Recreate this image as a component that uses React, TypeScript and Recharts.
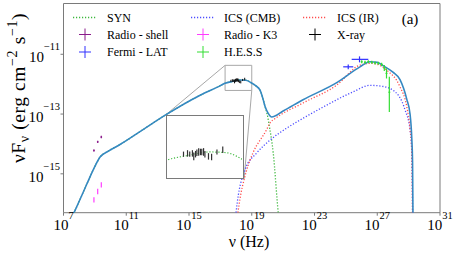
import React from 'react';
import {
  ComposedChart,
  Line,
  Scatter,
  XAxis,
  YAxis,
  ErrorBar,
  ReferenceArea,
  ReferenceLine,
} from 'recharts';

const FONT = "'Liberation Serif'";

// ---------- axes (log10 of nu [Hz] and of nuF_nu [erg cm^-2 s^-1]) ----------
const X_DOMAIN: [number, number] = [7, 31];
const Y_DOMAIN: [number, number] = [-16.301, -9.301];
const X_TICKS = [7, 11, 15, 19, 23, 27, 31];
const Y_TICKS = [-15, -13, -11];

// ---------- model curves ----------
const totalLogNu = [7.5, 8.05, 8.48, 9.01, 9.33, 9.86, 10.6, 12.07, 13.51, 15.71, 17.0, 17.3, 17.76, 18.26, 18.63, 18.99, 19.27, 19.53, 19.72, 19.85, 20.04, 20.27, 21.0, 22.27, 24.42, 25.9, 26.54, 27.0, 27.37, 28.0, 28.45, 28.88, 29.09, 29.2, 29.25, 29.28];
const totalLogFlux = [-16.5, -15.86, -15.35, -14.74, -14.44, -14.24, -14.02, -13.52, -13.03, -12.37, -12.05, -11.97, -11.91, -11.86, -11.87, -11.96, -12.06, -12.2, -12.5, -12.75, -12.97, -13.1, -12.9, -12.52, -11.95, -11.42, -11.25, -11.27, -11.38, -11.6, -11.85, -12.5, -13.0, -13.8, -14.6, -16.6];

const synLogNu = [7.5, 8.05, 8.48, 9.01, 9.33, 9.86, 10.6, 12.07, 13.51, 15.71, 17.0, 17.3, 17.76, 18.26, 18.63, 18.99, 19.27, 19.53, 19.72, 19.85, 19.98, 20.12, 20.37, 20.69, 20.8];
const synLogFlux = [-16.5, -15.86, -15.35, -14.74, -14.44, -14.24, -14.02, -13.52, -13.03, -12.37, -12.05, -11.97, -11.91, -11.86, -11.87, -11.96, -12.06, -12.2, -12.5, -12.76, -13.0, -13.4, -14.3, -16.3, -16.8];

const cmbLogNu = [17.95, 18.0, 18.57, 19.32, 20.17, 21.23, 22.08, 23.5, 25.45, 26.54, 27.3, 28.0, 28.77, 29.09, 29.2, 29.26];
const cmbLogFlux = [-16.6, -16.3, -14.87, -14.3, -13.87, -13.47, -13.2, -12.78, -12.26, -12.04, -12.07, -12.2, -12.86, -13.52, -14.2, -16.6];

const irLogNu = [18.05, 18.12, 18.68, 19.08, 19.95, 20.16, 20.5, 22.27, 24.42, 25.9, 26.65, 27.6, 28.45, 28.88, 29.09, 29.2, 29.25];
const irLogFlux = [-16.6, -16.3, -14.87, -14.3, -13.52, -13.3, -13.15, -12.63, -12.03, -11.36, -11.3, -11.53, -12.09, -12.75, -13.5, -14.3, -16.6];

// ---------- observations ----------
const shellLogNu = [8.94, 9.18, 9.41];
const shellLogFlux = [-14.22, -13.93, -13.77];
const shellErrX = [0.05, 0.05, 0.05];
const shellErrY = [0.04, 0.04, 0.04];

const k3LogNu = [8.94, 9.18, 9.41];
const k3LogFlux = [-15.87, -15.59, -15.37];
const k3ErrY = [0.09, 0.09, 0.09];

const fermiLogNu = [25.15, 25.87];
const fermiLogFlux = [-11.42, -11.17];
const fermiErrX: (number | number[])[] = [0.32, [0.5, 0.56]];
const fermiErrY = [0.08, 0.1];

const hessLogNu = [26.01, 26.22, 26.43, 26.65, 26.86, 27.07, 27.28, 27.45, 27.59, 27.77];
const hessLogFlux = [-11.25, -11.27, -11.25, -11.27, -11.29, -11.3, -11.34, -11.46, -11.64, -12.27];
const hessErrX = [0.06, 0.06, 0.06, 0.06, 0.06, 0.06, 0.06, 0.06, 0.06, 0.06];
const hessErrY: (number | number[])[] = [0.05, 0.05, 0.05, 0.05, 0.05, 0.05, 0.06, 0.1, 0.17, [0.66, 0.52]];

const xrayLogNu = [17.67, 17.76, 17.81, 17.87, 17.9, 17.94, 17.97, 18.01, 18.05, 18.08, 18.12, 18.15, 18.23, 18.3, 18.42, 18.55];
const xrayLogFlux = [-11.89, -11.88, -11.89, -11.88, -11.92, -11.89, -11.87, -11.86, -11.86, -11.86, -11.86, -11.89, -11.92, -11.93, -11.86, -11.83];
const xrayErrY = [0.035, 0.044, 0.035, 0.044, 0.052, 0.044, 0.044, 0.052, 0.044, 0.044, 0.052, 0.044, 0.044, 0.044, 0.035, 0.044];

// zoomed region (inset limits) and where the inset sits, in main-axis units
const ZOOM_X: [number, number] = [17.3, 19.0];
const ZOOM_Y: [number, number] = [-12.21, -11.37];
const INSET_X: [number, number] = [13.51, 18.51];
const INSET_Y: [number, number] = [-15.18, -13.03];

type Pt = { x: number; y: number; ex?: number | number[]; ey?: number | number[] };
const zip = (xs: number[], ys: number[], ex?: (number | number[])[], ey?: (number | number[])[]): Pt[] =>
  xs.map((x, i) => ({ x, y: ys[i], ex: ex ? ex[i] : undefined, ey: ey ? ey[i] : undefined }));

const totalData = zip(totalLogNu, totalLogFlux);
const synData = zip(synLogNu, synLogFlux);
const cmbData = zip(cmbLogNu, cmbLogFlux);
const irData = zip(irLogNu, irLogFlux);
const shellData = zip(shellLogNu, shellLogFlux, shellErrX, shellErrY);
const k3Data = zip(k3LogNu, k3LogFlux, undefined, k3ErrY);
const fermiData = zip(fermiLogNu, fermiLogFlux, fermiErrX, fermiErrY);
const hessData = zip(hessLogNu, hessLogFlux, hessErrX, hessErrY);
const xrayData = zip(xrayLogNu, xrayLogFlux, undefined, xrayErrY);

// ---------- layout ----------
const W = 457;
const H = 254;
const PLOT = { left: 63.5, top: 3.5, right: 440, bottom: 212.7 };
const px = (v: number) => PLOT.left + ((v - X_DOMAIN[0]) / (X_DOMAIN[1] - X_DOMAIN[0])) * (PLOT.right - PLOT.left);
const py = (v: number) => PLOT.top + ((Y_DOMAIN[1] - v) / (Y_DOMAIN[1] - Y_DOMAIN[0])) * (PLOT.bottom - PLOT.top);

const C = {
  total: '#3588c2',
  syn: '#3db83d',
  cmb: '#4d4dff',
  ir: '#ff4d4d',
  shell: '#8a1a8a',
  k3: '#ff3cff',
  fermi: '#3030ff',
  hess: '#33dd33',
  xray: '#111111',
  frame: '#7a7a7a',
  zoom: '#a8a8a8',
};

const legendItems = [
  { label: 'SYN', kind: 'line', color: C.syn, col: 0, row: 0 },
  { label: 'Radio - shell', kind: 'cross', color: C.shell, col: 0, row: 1 },
  { label: 'Fermi - LAT', kind: 'cross', color: C.fermi, col: 0, row: 2 },
  { label: 'ICS (CMB)', kind: 'line', color: C.cmb, col: 1, row: 0 },
  { label: 'Radio - K3', kind: 'cross', color: C.k3, col: 1, row: 1 },
  { label: 'H.E.S.S', kind: 'cross', color: C.hess, col: 1, row: 2 },
  { label: 'ICS (IR)', kind: 'line', color: C.ir, col: 2, row: 0 },
  { label: 'X-ray', kind: 'cross', color: '#000', col: 2, row: 1 },
];
const LEG_ICON_X = [85, 203, 315];
const LEG_TEXT_X = [107, 224, 337];
const LEG_ROW_Y = [17.5, 34.5, 52];

const fmtExp = (v: number) => String(v).replace('-', '\u2212');
const serif = { fontFamily: FONT };

const XTick = (props: any) => {
  const { x, y, payload } = props;
  return (
    <text x={x} y={y + 12.5} textAnchor="middle" style={serif} fill="#000">
      <tspan fontSize={15}>10</tspan>
      <tspan fontSize={10.5} dy={-11}>{fmtExp(payload.value)}</tspan>
    </text>
  );
};

const YTick = (props: any) => {
  const { x, y, payload } = props;
  return (
    <text x={x + 1.5} y={y + 7.7} textAnchor="end" style={serif} fill="#000">
      <tspan fontSize={15}>10</tspan>
      <tspan fontSize={10.5} dy={-11.5}>{fmtExp(payload.value)}</tspan>
    </text>
  );
};

const NoShape = () => <g />;
const DOT = '1.2 1.8';

const Inset = () => {
  const left = px(INSET_X[0]);
  const top = py(INSET_Y[1]);
  const w = px(INSET_X[1]) - left;
  const h = py(INSET_Y[0]) - top;
  const b = 1.3;
  return (
    <div
      style={{
        position: 'absolute',
        left,
        top,
        width: w,
        height: h,
        boxSizing: 'border-box',
        border: `${b}px solid ${C.frame}`,
        background: '#fff',
      }}
    >
      <ComposedChart width={w - 2 * b} height={h - 2 * b} margin={{ top: 0, right: 0, bottom: 0, left: 0 }}>
        <XAxis type="number" dataKey="x" domain={ZOOM_X} allowDataOverflow hide />
        <YAxis type="number" dataKey="y" domain={ZOOM_Y} allowDataOverflow hide />
        <Line data={synData} dataKey="y" type="monotone" stroke={C.syn} strokeWidth={1.2} strokeDasharray={DOT} dot={false} isAnimationActive={false} />
        <Scatter data={xrayData} dataKey="y" shape={NoShape} isAnimationActive={false}>
          <ErrorBar dataKey="ey" direction="y" width={0} stroke="#333" strokeWidth={1.2} />
        </Scatter>
      </ComposedChart>
    </div>
  );
};

const Overlay = () => (
  <svg width={W} height={H} style={{ position: 'absolute', left: 0, top: 0, pointerEvents: 'none' }}>
    {legendItems.map((it) => {
      const cx = LEG_ICON_X[it.col];
      const cy = LEG_ROW_Y[it.row];
      return (
        <g key={it.label}>
          {it.kind === 'line' ? (
            <line x1={cx - 12} x2={cx + 12} y1={cy} y2={cy} stroke={it.color} strokeWidth={1.3} strokeDasharray={DOT} />
          ) : (
            <g stroke={it.color} strokeWidth={1}>
              <line x1={cx - 6} x2={cx + 6} y1={cy} y2={cy} />
              <line x1={cx} x2={cx} y1={cy - 6} y2={cy + 6} />
            </g>
          )}
          <text x={LEG_TEXT_X[it.col]} y={cy + 4} fontSize={12} fill="#000" style={serif}>
            {it.label}
          </text>
        </g>
      );
    })}
    <text x={410} y={24} fontSize={15} textAnchor="middle" fill="#000" style={serif}>(a)</text>
    <text x={249} y={247} fontSize={16} textAnchor="middle" fill="#000" style={serif}>ν (Hz)</text>
    <text transform="translate(25,88) rotate(-90)" textAnchor="middle" fontSize={19.5} letterSpacing={0.6} fill="#000" style={serif}>
      νF
      <tspan dy={4} fontSize={14}>ν</tspan>
      <tspan dy={-4}> (erg cm</tspan>
      <tspan dy={-8} fontSize={14}>−2</tspan>
      <tspan dy={8}> s</tspan>
      <tspan dy={-8} fontSize={14}>−1</tspan>
      <tspan dy={8}>)</tspan>
    </text>
  </svg>
);

export default function App() {
  return (
    <div style={{ position: 'absolute', left: 0, top: 0, width: W, height: H, background: '#fff' }}>
      <ComposedChart
        width={W}
        height={H}
        margin={{ top: PLOT.top, right: W - PLOT.right, bottom: 0, left: 0 }}
      >
        <XAxis
          type="number"
          dataKey="x"
          domain={X_DOMAIN}
          ticks={X_TICKS}
          allowDataOverflow
          height={H - PLOT.bottom}
          axisLine={false}
          tickLine={{ stroke: C.frame }}
          tickSize={3}
          tick={(p: any) => <XTick {...p} />}
          interval={0}
        />
        <YAxis
          type="number"
          dataKey="y"
          domain={Y_DOMAIN}
          ticks={Y_TICKS}
          allowDataOverflow
          width={PLOT.left}
          axisLine={false}
          tickLine={{ stroke: C.frame }}
          tickSize={3}
          tick={(p: any) => <YTick {...p} />}
          interval={0}
        />
        <ReferenceArea x1={X_DOMAIN[0]} x2={X_DOMAIN[1]} y1={Y_DOMAIN[0]} y2={Y_DOMAIN[1]} fill="none" stroke={C.frame} strokeWidth={1} ifOverflow="visible" />
        <ReferenceArea x1={ZOOM_X[0]} x2={ZOOM_X[1]} y1={ZOOM_Y[0]} y2={ZOOM_Y[1]} fill="none" stroke={C.zoom} strokeWidth={1} ifOverflow="visible" />
        <ReferenceLine segment={[{ x: INSET_X[0], y: INSET_Y[1] }, { x: ZOOM_X[0], y: ZOOM_Y[1] }]} stroke={C.zoom} strokeWidth={1} ifOverflow="visible" />
        <ReferenceLine segment={[{ x: INSET_X[1], y: INSET_Y[0] }, { x: ZOOM_X[1], y: ZOOM_Y[0] }]} stroke={C.zoom} strokeWidth={1} ifOverflow="visible" />

        <Line data={synData} dataKey="y" type="monotone" stroke={C.syn} strokeWidth={1.3} strokeDasharray={DOT} dot={false} isAnimationActive={false} />
        <Line data={cmbData} dataKey="y" type="monotone" stroke={C.cmb} strokeWidth={1.3} strokeDasharray={DOT} dot={false} isAnimationActive={false} />
        <Line data={irData} dataKey="y" type="monotone" stroke={C.ir} strokeWidth={1.3} strokeDasharray={DOT} dot={false} isAnimationActive={false} />
        <Line data={totalData} dataKey="y" type="monotone" stroke={C.total} strokeWidth={1.6} dot={false} isAnimationActive={false} />

        <Scatter data={shellData} dataKey="y" shape={NoShape} isAnimationActive={false}>
          <ErrorBar dataKey="ex" direction="x" width={0} stroke={C.shell} strokeWidth={1.2} />
          <ErrorBar dataKey="ey" direction="y" width={0} stroke={C.shell} strokeWidth={1.2} />
        </Scatter>
        <Scatter data={k3Data} dataKey="y" shape={NoShape} isAnimationActive={false}>
          <ErrorBar dataKey="ey" direction="y" width={0} stroke={C.k3} strokeWidth={1.2} />
        </Scatter>
        <Scatter data={fermiData} dataKey="y" shape={NoShape} isAnimationActive={false}>
          <ErrorBar dataKey="ex" direction="x" width={0} stroke={C.fermi} strokeWidth={1.2} />
          <ErrorBar dataKey="ey" direction="y" width={0} stroke={C.fermi} strokeWidth={1.2} />
        </Scatter>
        <Scatter data={hessData} dataKey="y" shape={NoShape} isAnimationActive={false}>
          <ErrorBar dataKey="ex" direction="x" width={0} stroke={C.hess} strokeWidth={1.2} />
          <ErrorBar dataKey="ey" direction="y" width={0} stroke={C.hess} strokeWidth={1.2} />
        </Scatter>
        <Scatter data={xrayData} dataKey="y" shape={NoShape} isAnimationActive={false}>
          <ErrorBar dataKey="ey" direction="y" width={0} stroke={C.xray} strokeWidth={1} />
        </Scatter>
      </ComposedChart>
      <Inset />
      <Overlay />
    </div>
  );
}
